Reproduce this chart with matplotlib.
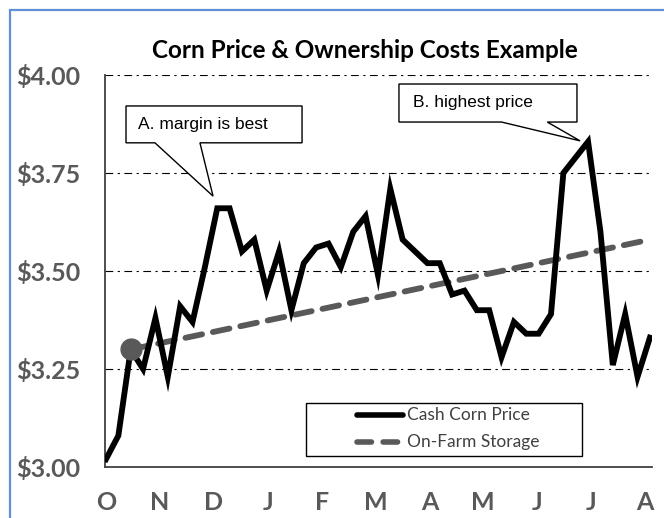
import numpy as np
import matplotlib.pyplot as plt
from matplotlib.patches import Polygon, Rectangle
from matplotlib.lines import Line2D

# weekly cash corn price, Oct -> Aug
cash_price = [3.02, 3.08, 3.30, 3.25, 3.38, 3.23, 3.41, 3.37, 3.51, 3.66,
              3.66, 3.55, 3.58, 3.45, 3.55, 3.40, 3.52, 3.56, 3.57, 3.51,
              3.60, 3.64, 3.49, 3.71, 3.58, 3.55, 3.52, 3.52, 3.44, 3.45,
              3.40, 3.40, 3.28, 3.37, 3.34, 3.34, 3.39, 3.75, 3.79, 3.83,
              3.60, 3.26, 3.39, 3.23, 3.33]
weeks = np.arange(len(cash_price))

# on-farm storage cost line (start at harvest sale point, end of season)
storage_weeks = [2, 44]
storage_values = [3.30, 3.58]

month_labels = ['O', 'N', 'D', 'J', 'F', 'M', 'A', 'M', 'J', 'J', 'A']
y_ticks = [3.00, 3.25, 3.50, 3.75, 4.00]
y_labels = ['$3.00', '$3.25', '$3.50', '$3.75', '$4.00']

GRAY = '#595959'

fig = plt.figure(figsize=(6.64, 5.18), dpi=100)
fig.patch.set_facecolor('white')
# blue frame around the chart (top / left visible)
fig.patches.append(Rectangle((10 / 664, -0.2), 1.2, 1.2 - 10 / 518,
                             transform=fig.transFigure, fill=False,
                             edgecolor='#5f8fd4', linewidth=1.6))

ax = fig.add_axes([105 / 664, (518 - 467) / 518, 547 / 664, 392 / 518])
ax.set_xlim(-0.08, 44.17)
ax.set_ylim(3.0, 4.0)

for pos in ('top', 'right'):
    ax.spines[pos].set_visible(False)
for pos in ('left', 'bottom'):
    ax.spines[pos].set_color('#404040')
    ax.spines[pos].set_linewidth(1.3)

# dash-dot gridlines
for yv in y_ticks[1:]:
    ax.axhline(yv, color='black', linewidth=0.8, linestyle=(0, (7, 4, 2, 4)), zorder=1)

ax.set_yticks(y_ticks)
ax.set_yticklabels(y_labels)
ax.set_xticks(np.arange(len(month_labels)) * 4.36)
ax.set_xticklabels(month_labels)
ax.tick_params(length=0, labelcolor=GRAY)
ax.tick_params(axis='y', pad=18)
ax.tick_params(axis='x', pad=17)
for lab in ax.get_yticklabels() + ax.get_xticklabels():
    lab.set_fontfamily('Lato')
    lab.set_fontweight('bold')
    lab.set_fontsize(18)

ax.plot(storage_weeks, storage_values, color=GRAY, linewidth=4.2,
        linestyle=(0, (2.9, 1.9)), dash_capstyle='round', zorder=3)
ax.plot(weeks, cash_price, color='black', linewidth=4.2, solid_joinstyle='miter', zorder=4)
ax.plot(storage_weeks[0], storage_values[0], 'o', color=GRAY, markersize=15, zorder=5)

ax.set_title('Corn Price & Ownership Costs Example', fontfamily='Lato',
             fontweight='bold', fontsize=17.5, pad=12, x=0.475)


def callout(x0, x1, ytop, ybot, wb1, wb2, tip, text, tx, ty):
    pts = [(x0, ytop), (x1, ytop), (x1, ybot), (wb2, ybot), tip, (wb1, ybot), (x0, ybot)]
    ax.add_patch(Polygon(pts, closed=True, facecolor='white', edgecolor='black',
                         linewidth=1.0, zorder=6, joinstyle='miter'))
    ax.text(tx, ty, text, fontfamily='Liberation Sans', fontsize=12.5,
            va='center', ha='left', zorder=7)


callout(1.62, 15.86, 3.921, 3.827, 3.96, 7.6, (8.66, 3.691), 'A. margin is best', 2.6, 3.874)
callout(23.7, 38.1, 3.977, 3.880, 32.0, 35.7, (38.35, 3.832), 'B. highest price', 24.8, 3.929)

# legend box
ax.add_patch(Rectangle((0.367, 0.028), 0.505, 0.135, transform=ax.transAxes,
                       facecolor='white', edgecolor='black', linewidth=1.0, zorder=6))
ax.add_line(Line2D([0.461, 0.545], [0.133, 0.133], transform=ax.transAxes,
                   color='black', linewidth=4.0, solid_capstyle='round', zorder=7))
ax.add_line(Line2D([0.461, 0.545], [0.064, 0.064], transform=ax.transAxes,
                   color=GRAY, linewidth=4.0, linestyle=(0, (2.6, 2.1)),
                   dash_capstyle='round', zorder=7))
ax.text(0.552, 0.133, 'Cash Corn Price', transform=ax.transAxes, fontfamily='Lato',
        fontsize=12.5, color='#404040', va='center', zorder=7)
ax.text(0.552, 0.064, 'On-Farm Storage', transform=ax.transAxes, fontfamily='Lato',
        fontsize=12.5, color='#404040', va='center', zorder=7)

plt.savefig('out.png', dpi=100)
